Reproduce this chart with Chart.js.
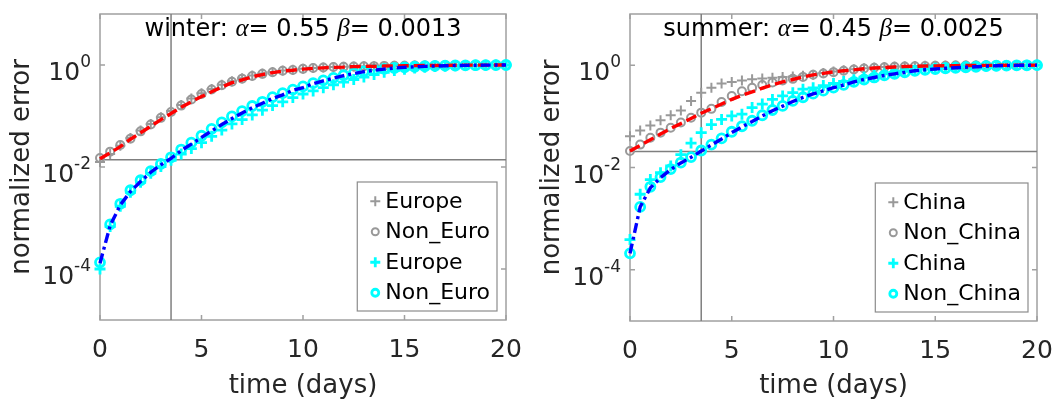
<!DOCTYPE html>
<html>
<head>
<meta charset="utf-8">
<script src="https://cdn.jsdelivr.net/npm/chart.js@4.4.1/dist/chart.umd.min.js"></script>
<style>
  body { margin: 0; background: #fff; }
  canvas { position: absolute; top: 0; }
</style>
</head>
<body>
<canvas id="winterChart" width="526" height="399" style="left:0"></canvas>
<canvas id="summerChart" width="526" height="399" style="left:526px"></canvas>
<script>
// time axis (days), markers every half day
var days = [0,0.5,1,1.5,2,2.5,3,3.5,4,4.5,5,5.5,6,6.5,7,7.5,8,8.5,9,9.5,10,
            10.5,11,11.5,12,12.5,13,13.5,14,14.5,15,15.5,16,16.5,17,17.5,18,18.5,19,19.5,20];
var xTicks = [0, 5, 10, 15, 20];
var yTicks = [1, 0.01, 0.0001];
var yTickExp = ['0', '-2', '-4'];
var yRange = [1e-5, 10];
var markDay = 3.5;

//WINTER//
var winterGreyPlus = [0.0125,0.018,0.026,0.037,0.052,0.07,0.095,0.125,0.165,0.22,0.28,0.34,0.41,0.48,0.55,0.62,0.68,0.73,0.78,0.81,
  0.84,0.87,0.89,0.91,0.92,0.935,0.945,0.95,0.96,0.965,0.97,0.975,0.98,0.983,0.986,0.99,0.992,0.994,0.996,0.998,1.0];
var winterGreyCircle = [0.015,0.02,0.027,0.036,0.05,0.068,0.092,0.12,0.16,0.21,0.27,0.33,0.40,0.47,0.54,0.61,0.67,0.72,0.77,0.80,
  0.84,0.87,0.89,0.91,0.92,0.935,0.945,0.95,0.96,0.965,0.97,0.975,0.98,0.983,0.986,0.99,0.992,0.994,0.996,0.998,1.0];
var winterCyanPlus = [1.0e-4,6.8e-4,0.0017,0.0032,0.005,0.0075,0.0102,0.0135,0.018,0.023,0.03,0.04,0.053,0.07,0.085,0.105,0.13,0.16,0.19,0.23,
  0.27,0.31,0.36,0.41,0.46,0.52,0.58,0.65,0.72,0.78,0.83,0.87,0.9,0.93,0.95,0.965,0.975,0.985,0.99,0.995,1.0];
var winterCyanCircle = [1.35e-4,7.5e-4,0.0019,0.0035,0.0055,0.0083,0.0115,0.0155,0.022,0.03,0.041,0.056,0.075,0.098,0.125,0.157,0.19,0.235,0.28,0.33,
  0.38,0.44,0.50,0.56,0.63,0.69,0.75,0.80,0.84,0.875,0.90,0.925,0.945,0.96,0.97,0.978,0.985,0.99,0.994,0.997,1.0];
var winterRedFit = [0.0145,0.019,0.025,0.035,0.047,0.063,0.085,0.112,0.148,0.19,0.24,0.30,0.37,0.45,0.51,0.59,0.65,0.71,0.76,0.79,
  0.83,0.86,0.88,0.90,0.91,0.93,0.94,0.945,0.955,0.96,0.965,0.97,0.977,0.98,0.984,0.988,0.99,0.993,0.995,0.998,1.0];
var winterBlueFit = [1.3e-4,7.1e-4,0.0018,0.0033,0.0052,0.0079,0.011,0.0148,0.021,0.028,0.038,0.051,0.068,0.089,0.115,0.145,0.178,0.22,0.26,0.32,
  0.36,0.43,0.49,0.55,0.62,0.68,0.74,0.79,0.83,0.87,0.90,0.92,0.94,0.955,0.966,0.977,0.984,0.989,0.993,0.997,1.0];
var winterLevel = 0.0139;

//SUMMER//
var summerGreyPlus = [0.041,0.053,0.066,0.084,0.105,0.13,0.2,0.29,0.36,0.44,0.47,0.5,0.53,0.55,0.57,0.59,0.6,0.62,0.65,0.7,
  0.75,0.8,0.83,0.87,0.9,0.92,0.94,0.95,0.96,0.97,0.975,0.98,0.984,0.987,0.99,0.992,0.994,0.996,0.997,0.999,1.0];
var summerGreyCircle = [0.021,0.028,0.038,0.048,0.06,0.076,0.094,0.118,0.14,0.19,0.25,0.31,0.36,0.41,0.46,0.50,0.54,0.59,0.65,0.69,
  0.73,0.78,0.82,0.86,0.89,0.91,0.93,0.945,0.955,0.965,0.972,0.978,0.983,0.987,0.99,0.992,0.994,0.996,0.997,0.999,1.0];
var summerCyanPlus = [3.9e-4,0.003,0.0058,0.0079,0.0107,0.0178,0.03,0.048,0.069,0.087,0.102,0.11,0.148,0.174,0.214,0.25,0.29,0.34,0.36,0.40,
  0.44,0.48,0.52,0.58,0.63,0.68,0.72,0.76,0.8,0.84,0.87,0.89,0.91,0.93,0.95,0.965,0.975,0.985,0.99,0.995,1.0];
var summerCyanCircle = [2.1e-4,0.0017,0.0042,0.0065,0.0093,0.0125,0.016,0.0215,0.028,0.037,0.05,0.064,0.082,0.105,0.133,0.16,0.2,0.236,0.277,0.318,
  0.365,0.412,0.47,0.525,0.575,0.63,0.676,0.724,0.776,0.813,0.84,0.87,0.89,0.91,0.93,0.955,0.973,0.982,0.989,0.995,1.0];
var summerRedFit = [0.021,0.027,0.035,0.045,0.058,0.072,0.091,0.115,0.141,0.174,0.214,0.257,0.30,0.355,0.41,0.47,0.525,0.59,0.645,0.69,
  0.74,0.776,0.81,0.85,0.88,0.90,0.92,0.94,0.95,0.96,0.968,0.975,0.98,0.985,0.988,0.991,0.993,0.995,0.997,0.999,1.0];
var summerBlueFit = [2.1e-4,0.0017,0.004,0.0063,0.0091,0.0123,0.0158,0.021,0.0275,0.036,0.048,0.062,0.079,0.102,0.129,0.158,0.195,0.234,0.275,0.316,
  0.363,0.41,0.47,0.525,0.575,0.63,0.676,0.724,0.776,0.813,0.84,0.87,0.89,0.91,0.93,0.955,0.973,0.982,0.989,0.995,1.0];
var summerLevel = 0.0205;

var FONT = "'DejaVu Sans'";
var TEXT = '#262626';
var GREY = '#999999';
var CYAN = '#00ffff';

function pts(values) {
  return values.map(function(v, i) { return { x: days[i], y: v }; });
}

// box, inner ticks, y tick labels with exponents, title and legend
var panelDecor = {
  id: 'panelDecor',
  beforeDatasetsDraw: function(chart) {
    var ctx = chart.ctx, a = chart.chartArea;
    var xs = chart.scales.x, ys = chart.scales.y;
    ctx.save();
    ctx.strokeStyle = '#a0a0a0';
    ctx.lineWidth = 1.5;
    ctx.strokeRect(a.left, a.top, a.right - a.left, a.bottom - a.top);
    ctx.beginPath();
    xTicks.forEach(function(t) {
      var px = xs.getPixelForValue(t);
      ctx.moveTo(px, a.bottom); ctx.lineTo(px, a.bottom - 5);
      ctx.moveTo(px, a.top); ctx.lineTo(px, a.top + 5);
    });
    yTicks.forEach(function(v) {
      var py = ys.getPixelForValue(v);
      ctx.moveTo(a.left, py); ctx.lineTo(a.left + 5, py);
      ctx.moveTo(a.right, py); ctx.lineTo(a.right - 5, py);
    });
    ctx.stroke();

    ctx.fillStyle = TEXT;
    ctx.textBaseline = 'alphabetic';
    ctx.textAlign = 'left';
    yTicks.forEach(function(v, i) {
      var py = ys.getPixelForValue(v);
      ctx.font = '17px ' + FONT;
      var ew = ctx.measureText(yTickExp[i]).width;
      ctx.font = '25px ' + FONT;
      var bw = ctx.measureText('10').width;
      var right = a.left - 9;
      ctx.fillText('10', right - ew - bw, py + 15);
      ctx.font = '17px ' + FONT;
      ctx.fillText(yTickExp[i], right - ew, py + 2);
    });
    ctx.restore();
  },
  afterDraw: function(chart, args, opts) {
    var ctx = chart.ctx, a = chart.chartArea;
    ctx.save();
    // title with italic greek letters
    var parts = opts.title;
    var total = 0;
    parts.forEach(function(p) {
      ctx.font = p.italic ? "italic 25px 'Liberation Serif'" : '24px ' + FONT;
      p.w = ctx.measureText(p.text).width;
      total += p.w;
    });
    var x = (a.left + a.right) / 2 - total / 2;
    ctx.fillStyle = '#000';
    ctx.textBaseline = 'alphabetic';
    ctx.textAlign = 'left';
    parts.forEach(function(p) {
      ctx.font = p.italic ? "italic 25px 'Liberation Serif'" : '24px ' + FONT;
      ctx.fillText(p.text, x, 36);
      x += p.w;
    });

    // legend, bottom right inside the axes
    var items = chart.data.datasets.filter(function(d) { return d.inLegend; });
    items.sort(function(p, q) { return p.legendRank - q.legendRank; });
    ctx.font = '22px ' + FONT;
    var tw = 0;
    items.forEach(function(d) { tw = Math.max(tw, ctx.measureText(d.label).width); });
    var rowH = 30.5;
    var bw = 29 + tw + 6, bh = items.length * rowH + 7;
    var bx = a.right - 9 - bw, by = a.bottom - 9 - bh;
    ctx.fillStyle = '#fff';
    ctx.fillRect(bx, by, bw, bh);
    ctx.strokeStyle = '#8c8c8c';
    ctx.lineWidth = 1.2;
    ctx.strokeRect(bx, by, bw, bh);
    items.forEach(function(d, i) {
      var cy = by + 4 + rowH / 2 + i * rowH;
      var mx = bx + 18;
      ctx.strokeStyle = d.pointBorderColor;
      ctx.lineWidth = d.pointBorderWidth;
      ctx.beginPath();
      if (d.pointStyle === 'cross') {
        ctx.moveTo(mx - 5, cy); ctx.lineTo(mx + 5, cy);
        ctx.moveTo(mx, cy - 5); ctx.lineTo(mx, cy + 5);
      } else {
        ctx.arc(mx, cy, 3.5, 0, Math.PI * 2);
      }
      ctx.stroke();
      ctx.fillStyle = '#000';
      ctx.textBaseline = 'middle';
      ctx.fillText(d.label, bx + 28, cy + 1);
    });
    ctx.restore();
  }
};

function buildPanel(id, p) {
  var markers = function(label, values, style, color, lw, r, rank) {
    return {
      label: label, data: pts(values), showLine: false, clip: false,
      pointStyle: style, pointRadius: r, pointBorderWidth: lw,
      pointBorderColor: color, pointBackgroundColor: 'rgba(0,0,0,0)',
      inLegend: true, legendRank: rank
    };
  };
  var fit = function(label, values, color, dash) {
    return {
      label: label, data: pts(values), showLine: true, pointRadius: 0,
      borderColor: color, borderWidth: 3.4, borderDash: dash, clip: false
    };
  };
  var guide = function(data) {
    return { label: 'guide', data: data, showLine: true, pointRadius: 0,
             borderColor: '#7f7f7f', borderWidth: 1.5 };
  };

  new Chart(document.getElementById(id), {
    type: 'scatter',
    data: {
      datasets: [
        fit('fit cyan', p.blue, '#0000ff', [10, 4, 3, 4]),
        fit('fit grey', p.red, '#ff0000', [11, 5]),
        markers(p.names[1], p.cyanCircle, 'circle', CYAN, 2.8, 4.5, 3),
        markers(p.names[0], p.cyanPlus, 'cross', CYAN, 2.8, 5.5, 2),
        markers(p.names[1], p.greyCircle, 'circle', GREY, 2, 4, 1),
        markers(p.names[0], p.greyPlus, 'cross', GREY, 2, 5, 0),
        guide([{ x: markDay, y: yRange[0] }, { x: markDay, y: yRange[1] }]),
        guide([{ x: 0, y: p.level }, { x: 20, y: p.level }])
      ]
    },
    options: {
      responsive: false,
      animation: false,
      layout: { padding: { top: p.top, right: 526 - p.right, left: 0, bottom: 0 } },
      plugins: {
        legend: { display: false },
        tooltip: { enabled: false },
        panelDecor: { title: p.title }
      },
      scales: {
        x: {
          type: 'linear', min: 0, max: 20,
          afterFit: function(s) { s.height = 399 - p.bottom; s.paddingLeft = 0; s.paddingRight = 0; },
          ticks: { stepSize: 5, font: { family: FONT, size: 25 }, color: TEXT, padding: 15, maxRotation: 0 },
          grid: { display: false, drawTicks: false },
          border: { display: false },
          title: { display: true, text: 'time (days)', font: { family: FONT, size: 26 }, color: TEXT,
                   padding: { top: 0, bottom: -3 } }
        },
        y: {
          type: 'logarithmic', min: yRange[0], max: yRange[1],
          afterFit: function(s) { s.width = p.left; },
          ticks: { display: false },
          grid: { display: false, drawTicks: false },
          border: { display: false },
          title: { display: true, text: 'normalized error', font: { family: FONT, size: 26 }, color: TEXT,
                   padding: { top: p.left - 93, bottom: 0 } }
        }
      }
    },
    plugins: [panelDecor]
  });
}

buildPanel('winterChart', {
  left: 100, right: 506, top: 14, bottom: 320,
  names: ['Europe', 'Non_Euro'],
  greyPlus: winterGreyPlus, greyCircle: winterGreyCircle,
  cyanPlus: winterCyanPlus, cyanCircle: winterCyanCircle,
  red: winterRedFit, blue: winterBlueFit, level: winterLevel,
  title: [{ text: 'winter: ' }, { text: 'α', italic: true }, { text: '= 0.55 ' },
          { text: 'β', italic: true }, { text: '= 0.0013' }]
});

buildPanel('summerChart', {
  left: 104, right: 511, top: 14, bottom: 321,
  names: ['China', 'Non_China'],
  greyPlus: summerGreyPlus, greyCircle: summerGreyCircle,
  cyanPlus: summerCyanPlus, cyanCircle: summerCyanCircle,
  red: summerRedFit, blue: summerBlueFit, level: summerLevel,
  title: [{ text: 'summer: ' }, { text: 'α', italic: true }, { text: '= 0.45 ' },
          { text: 'β', italic: true }, { text: '= 0.0025' }]
});
</script>
</body>
</html>
